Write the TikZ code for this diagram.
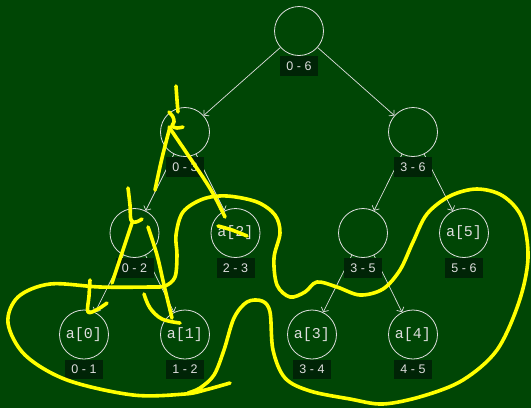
\documentclass[tikz,border=0pt]{standalone}
\usepackage{fontspec}
\setmainfont{Liberation Sans}
\newfontfamily\monof{Liberation Mono}
\usetikzlibrary{arrows.meta}
\definecolor{bg}{RGB}{0,70,5}
\definecolor{boxc}{RGB}{0,36,6}
\definecolor{fg}{RGB}{222,222,222}
\definecolor{hl}{RGB}{255,255,0}
\begin{document}
\begin{tikzpicture}[x=1pt,y=-1pt,
  tnode/.style={circle,draw=fg,line width=0.8pt,minimum size=49pt,inner sep=0pt,text=fg,font=\monof\fontsize{15}{15}\selectfont},
  lbl/.style={fill=boxc,text=fg,minimum width=38pt,minimum height=19.5pt,inner sep=0pt,anchor=north,font=\fontsize{12.5}{12.5}\selectfont},
  edge/.style={draw=fg,line width=0.7pt,-{Straight Barb[length=3.5pt,width=8pt]}},
  ink/.style={draw=hl,line width=3.6pt,line cap=round,line join=round}]
\fill[bg] (0,0) rectangle (531,408);
\useasboundingbox (0,0) rectangle (531,408);
% tree nodes
\node[tnode] (r)   at (299,31) {};
\node[tnode] (n03) at (185,132) {};
\node[tnode] (n36) at (413,132) {};
\node[tnode] (n02) at (134.5,233) {};
\node[tnode] (a2)  at (235.5,233) {a[2]};
\node[tnode] (n35) at (363,233) {};
\node[tnode] (a5)  at (464,233) {a[5]};
\node[tnode] (a0)  at (84,334.5) {a[0]};
\node[tnode] (a1)  at (185,334.5) {a[1]};
\node[tnode] (a3)  at (312,334.5) {a[3]};
\node[tnode] (a4)  at (413,334.5) {a[4]};
% edges
\draw[edge] (r) -- (n03);
\draw[edge] (r) -- (n36);
\draw[edge] (n03) -- (n02);
\draw[edge] (n03) -- (a2);
\draw[edge] (n36) -- (n35);
\draw[edge] (n36) -- (a5);
\draw[edge] (n02) -- (a0);
\draw[edge] (n02) -- (a1);
\draw[edge] (n35) -- (a3);
\draw[edge] (n35) -- (a4);
% range labels
\node[lbl] (lr)   at (r.south)   {0 - 6};
\node[lbl] (l03)  at (n03.south) {0 - 3};
\node[lbl] (l36)  at (n36.south) {3 - 6};
\node[lbl] (l02)  at (n02.south) {0 - 2};
\node[lbl] (l23)  at (a2.south)  {2 - 3};
\node[lbl] (l35)  at (n35.south) {3 - 5};
\node[lbl] (l56)  at (a5.south)  {5 - 6};
\node[lbl] (l01)  at (a0.south)  {0 - 1};
\node[lbl] (l12)  at (a1.south)  {1 - 2};
\node[lbl] (l34)  at (a3.south)  {3 - 4};
\node[lbl] (l45)  at (a4.south)  {4 - 5};
% yellow annotations
\draw[ink] plot[smooth,tension=0.6] coordinates {(176,86) (177,100) (178,112)};
\draw[ink] plot[smooth,tension=0.6] coordinates {(169,112) (173,117) (174,122) (172,126) (177,128) (183,127)};
\draw[ink] plot[smooth,tension=0.6] coordinates {(170,127) (162,158) (155,190)};
\draw[ink] plot[smooth,tension=0.6] coordinates {(169,127) (190,158) (211,190) (225,217)};
\draw[ink] plot[smooth,tension=0.6] coordinates {(218,226) (232,230) (247,236)};
\draw[ink] plot[smooth,tension=0.6] coordinates {(128,188) (130,205) (131,220) (136,222) (142,219)};
\draw[ink] plot[smooth,tension=0.6] coordinates {(132,223) (122,253) (112,283)};
\draw[ink] plot[smooth,tension=0.6] coordinates {(148,227) (157,255) (164,285) (172,318)};
\draw[ink] plot[smooth,tension=0.6] coordinates {(144,294) (150,308) (162,319) (180,323)};
\draw[ink] plot[smooth,tension=0.6] coordinates {(90,280) (89,296) (88,312) (98,309) (107,303)};
\draw[ink] plot[smooth,tension=0.55] coordinates {
  (230,383) (205,390) (185,394) (133,395) (67,380) (25,355) (8,323) (18,297)
  (50,284) (100,287) (150,287) (165,286) (175,277) (177,255) (176,235)
  (183,212) (203,199) (227,196) (257,202) (275,215) (280,233) (274,258)
  (277,285) (290,297) (305,292) (317,282) (337,287) (360,295) (383,289)
  (400,270) (413,242) (427,214) (450,196) (477,189) (503,196) (522,218)
  (528,258) (519,302) (497,350) (463,380) (423,396) (383,404) (350,399)
  (310,391) (285,378) (273,350) (270,312) (262,301) (247,302) (234,318)
  (224,350) (214,375) (200,388) (188,393)};
\end{tikzpicture}
\end{document}
